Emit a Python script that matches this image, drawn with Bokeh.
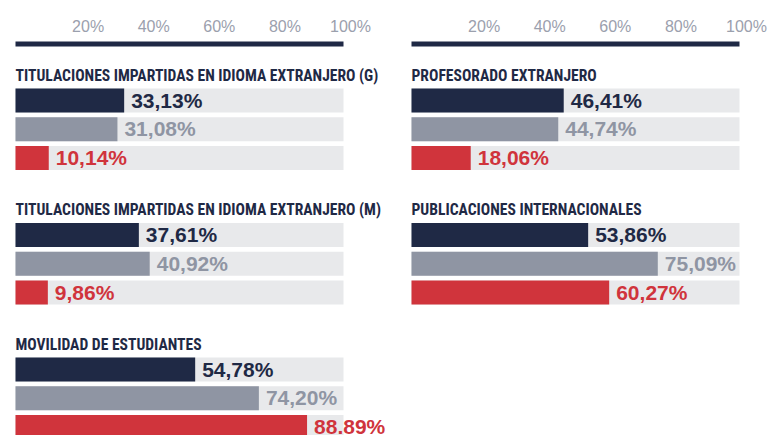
from bokeh.plotting import figure
from bokeh.models import ColumnDataSource, Range1d
from bokeh.core.properties import value
from bokeh.embed import file_html
from bokeh.resources import INLINE

# ---------------- data ----------------
titles = [
    "TITULACIONES IMPARTIDAS EN IDIOMA EXTRANJERO (G)",
    "TITULACIONES IMPARTIDAS EN IDIOMA EXTRANJERO (M)",
    "MOVILIDAD DE ESTUDIANTES",
    "PROFESORADO EXTRANJERO",
    "PUBLICACIONES INTERNACIONALES",
]
panel_col = [0, 0, 0, 1, 1]
panel_row = [0, 1, 2, 0, 1]
navy_vals = [33.13, 37.61, 54.78, 46.41, 53.86]
gray_vals = [31.08, 40.92, 74.20, 44.74, 75.09]
red_vals = [10.14, 9.86, 88.89, 18.06, 60.27]
navy_labels = ["33,13%", "37,61%", "54,78%", "46,41%", "53,86%"]
gray_labels = ["31,08%", "40,92%", "74,20%", "44,74%", "75,09%"]
red_labels = ["10,14%", "9,86%", "88.89%", "18,06%", "60,27%"]
tick_values = [20, 40, 60, 80, 100]
tick_labels = ["20%", "40%", "60%", "80%", "100%"]

# ---------------- style / layout ----------------
NAVY = "#1f2945"
GRAY = "#8f95a3"
RED = "#d0343c"
TRACK = "#e8e9eb"
TICK = "#9ba0ad"
TITLE_FONT = ("'Roboto Condensed', 'Liberation Sans Narrow', 'Arial Narrow', "
              "'DejaVu Sans Condensed', 'Noto Sans Condensed', 'Liberation Sans'")

W, H = 768, 435
PX = 3.28             # pixels per percent
LEFT = 15             # left track start (px)
COL_OFF = 396 / PX    # column offset in percent units
PANEL_TOP = [88, 222.5, 357]   # top of first bar, per row (px)
TITLE_BASE = [75, 209.5, 344]
BAR_PITCH = 28.8
BAR_H = 24
AXIS_Y = 43.5
TICK_Y = 25.5
LABEL_DY = -0.5

p = figure(width=W, height=H,
           x_range=Range1d(-LEFT / PX, (W - LEFT) / PX),
           y_range=Range1d(H, 0),
           output_backend="svg", toolbar_location=None,
           x_axis_location=None, y_axis_location=None,
           min_border=0)
p.grid.visible = False
p.outline_line_color = None
p.background_fill_color = "white"
p.border_fill_color = "white"

# top axes (one per column)
for c in (0, 1):
    off = c * COL_OFF
    p.segment(x0=[off], x1=[off + 100], y0=[AXIS_Y], y1=[AXIS_Y],
              line_color=NAVY, line_width=5)
    p.text(x=[off + t for t in tick_values], y=[TICK_Y] * len(tick_values),
           text=tick_labels, x_offset=7,
           text_align="center", text_baseline="alphabetic",
           text_font=value("Liberation Sans"), text_font_size="16px",
           text_color=TICK)

series = [(navy_vals, navy_labels, NAVY),
          (gray_vals, gray_labels, GRAY),
          (red_vals, red_labels, RED)]

track = dict(left=[], right=[], y=[])
bars = dict(left=[], right=[], y=[], color=[])
labs = dict(x=[], y=[], text=[], color=[])
ttl = dict(x=[], y=[], text=[])
for i, t in enumerate(titles):
    off = panel_col[i] * COL_OFF
    top = PANEL_TOP[panel_row[i]]
    ttl["x"].append(off)
    ttl["y"].append(TITLE_BASE[panel_row[i]])
    ttl["text"].append(t)
    for k, (vals, labels, col) in enumerate(series):
        yc = top + k * BAR_PITCH + BAR_H / 2
        track["left"].append(off)
        track["right"].append(off + 100)
        track["y"].append(yc)
        bars["left"].append(off)
        bars["right"].append(off + vals[i])
        bars["y"].append(yc)
        bars["color"].append(col)
        labs["x"].append(off + vals[i])
        labs["y"].append(yc + LABEL_DY)
        labs["text"].append(labels[i])
        labs["color"].append(col)

p.hbar(y="y", left="left", right="right", height=BAR_H,
       source=ColumnDataSource(track), fill_color=TRACK, line_color=None)
p.hbar(y="y", left="left", right="right", height=BAR_H,
       source=ColumnDataSource(bars), fill_color="color", line_color=None)
p.text(x="x", y="y", text="text", source=ColumnDataSource(labs),
       x_offset=7, text_align="left", text_baseline="alphabetic",
       text_font=value("Liberation Sans"), text_font_style="bold",
       text_font_size="21px", text_color="color")
p.text(x="x", y="y", text="text", source=ColumnDataSource(ttl),
       text_align="left", text_baseline="alphabetic",
       text_font=value(TITLE_FONT), text_font_style="bold",
       text_font_size="15.6px", text_color=NAVY)

open("out.html", "w").write(file_html(p, INLINE))
